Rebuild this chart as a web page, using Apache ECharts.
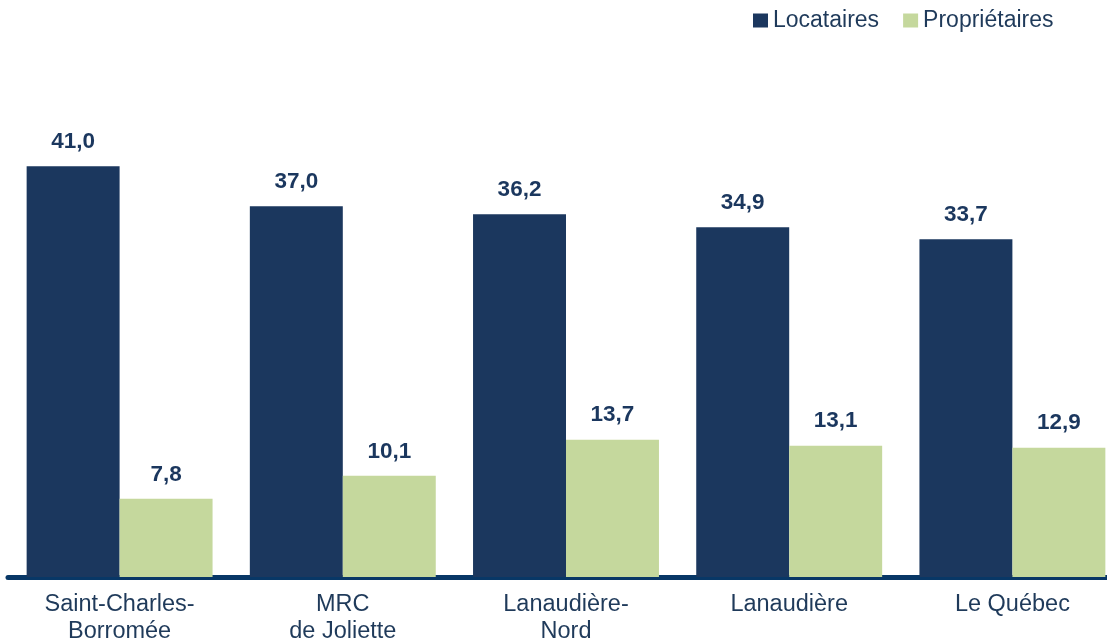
<!DOCTYPE html>
<html>
<head>
<meta charset="utf-8">
<script src="https://cdn.jsdelivr.net/npm/echarts@6/dist/echarts.min.js"></script>
<style>
html,body{margin:0;padding:0;background:#fff;}
#chart{width:1107px;height:643px;}
</style>
</head>
<body>
<div id="chart"></div>
<script>
const categories = ["Saint-Charles-\nBorromée", "MRC\nde Joliette", "Lanaudière-\nNord", "Lanaudière", "Le Québec"];
const locataires = [41.0, 37.0, 36.2, 34.9, 33.7];
const proprietaires = [7.8, 10.1, 13.7, 13.1, 12.9];
const seriesNames = ["Locataires", "Propriétaires"];

const chart = echarts.init(document.getElementById('chart'), null, {renderer: 'canvas'});
const fmt = p => p.value.toFixed(1).replace('.', ',');
const labelStyle = {
  show: true, position: 'top', distance: 13,
  formatter: fmt, color: '#1b375e', fontWeight: 'bold', fontSize: 22.5,
  fontFamily: 'Liberation Sans, Arial, sans-serif'
};
chart.setOption({
  animation: false,
  textStyle: {fontFamily: 'Liberation Sans, Arial, sans-serif'},
  legend: {
    left: 753, top: 9, padding: 0,
    itemWidth: 15, itemHeight: 14, itemGap: 24,
    icon: 'rect',
    textStyle: {fontSize: 23, color: '#1f3a5a'},
    data: seriesNames
  },
  grid: {left: 8, top: 76, width: 1116, height: 501, containLabel: false, outerBoundsMode: 'none'},
  xAxis: {
    type: 'category', data: categories,
    axisLine: {lineStyle: {color: '#083766', width: 5}},
    axisTick: {show: false},
    axisLabel: {fontSize: 23.5, color: '#1f3a5a', lineHeight: 27, margin: 14, interval: 0}
  },
  yAxis: {type: 'value', min: 0, max: 50, show: false, splitLine: {show: false}},
  series: [
    {name: seriesNames[0], type: 'bar', data: locataires, barGap: '0%', barCategoryGap: '16.7%',
     itemStyle: {color: '#1b375e'}, label: labelStyle},
    {name: seriesNames[1], type: 'bar', data: proprietaires,
     itemStyle: {color: '#c5d89d'}, label: labelStyle}
  ]
});
</script>
</body>
</html>
